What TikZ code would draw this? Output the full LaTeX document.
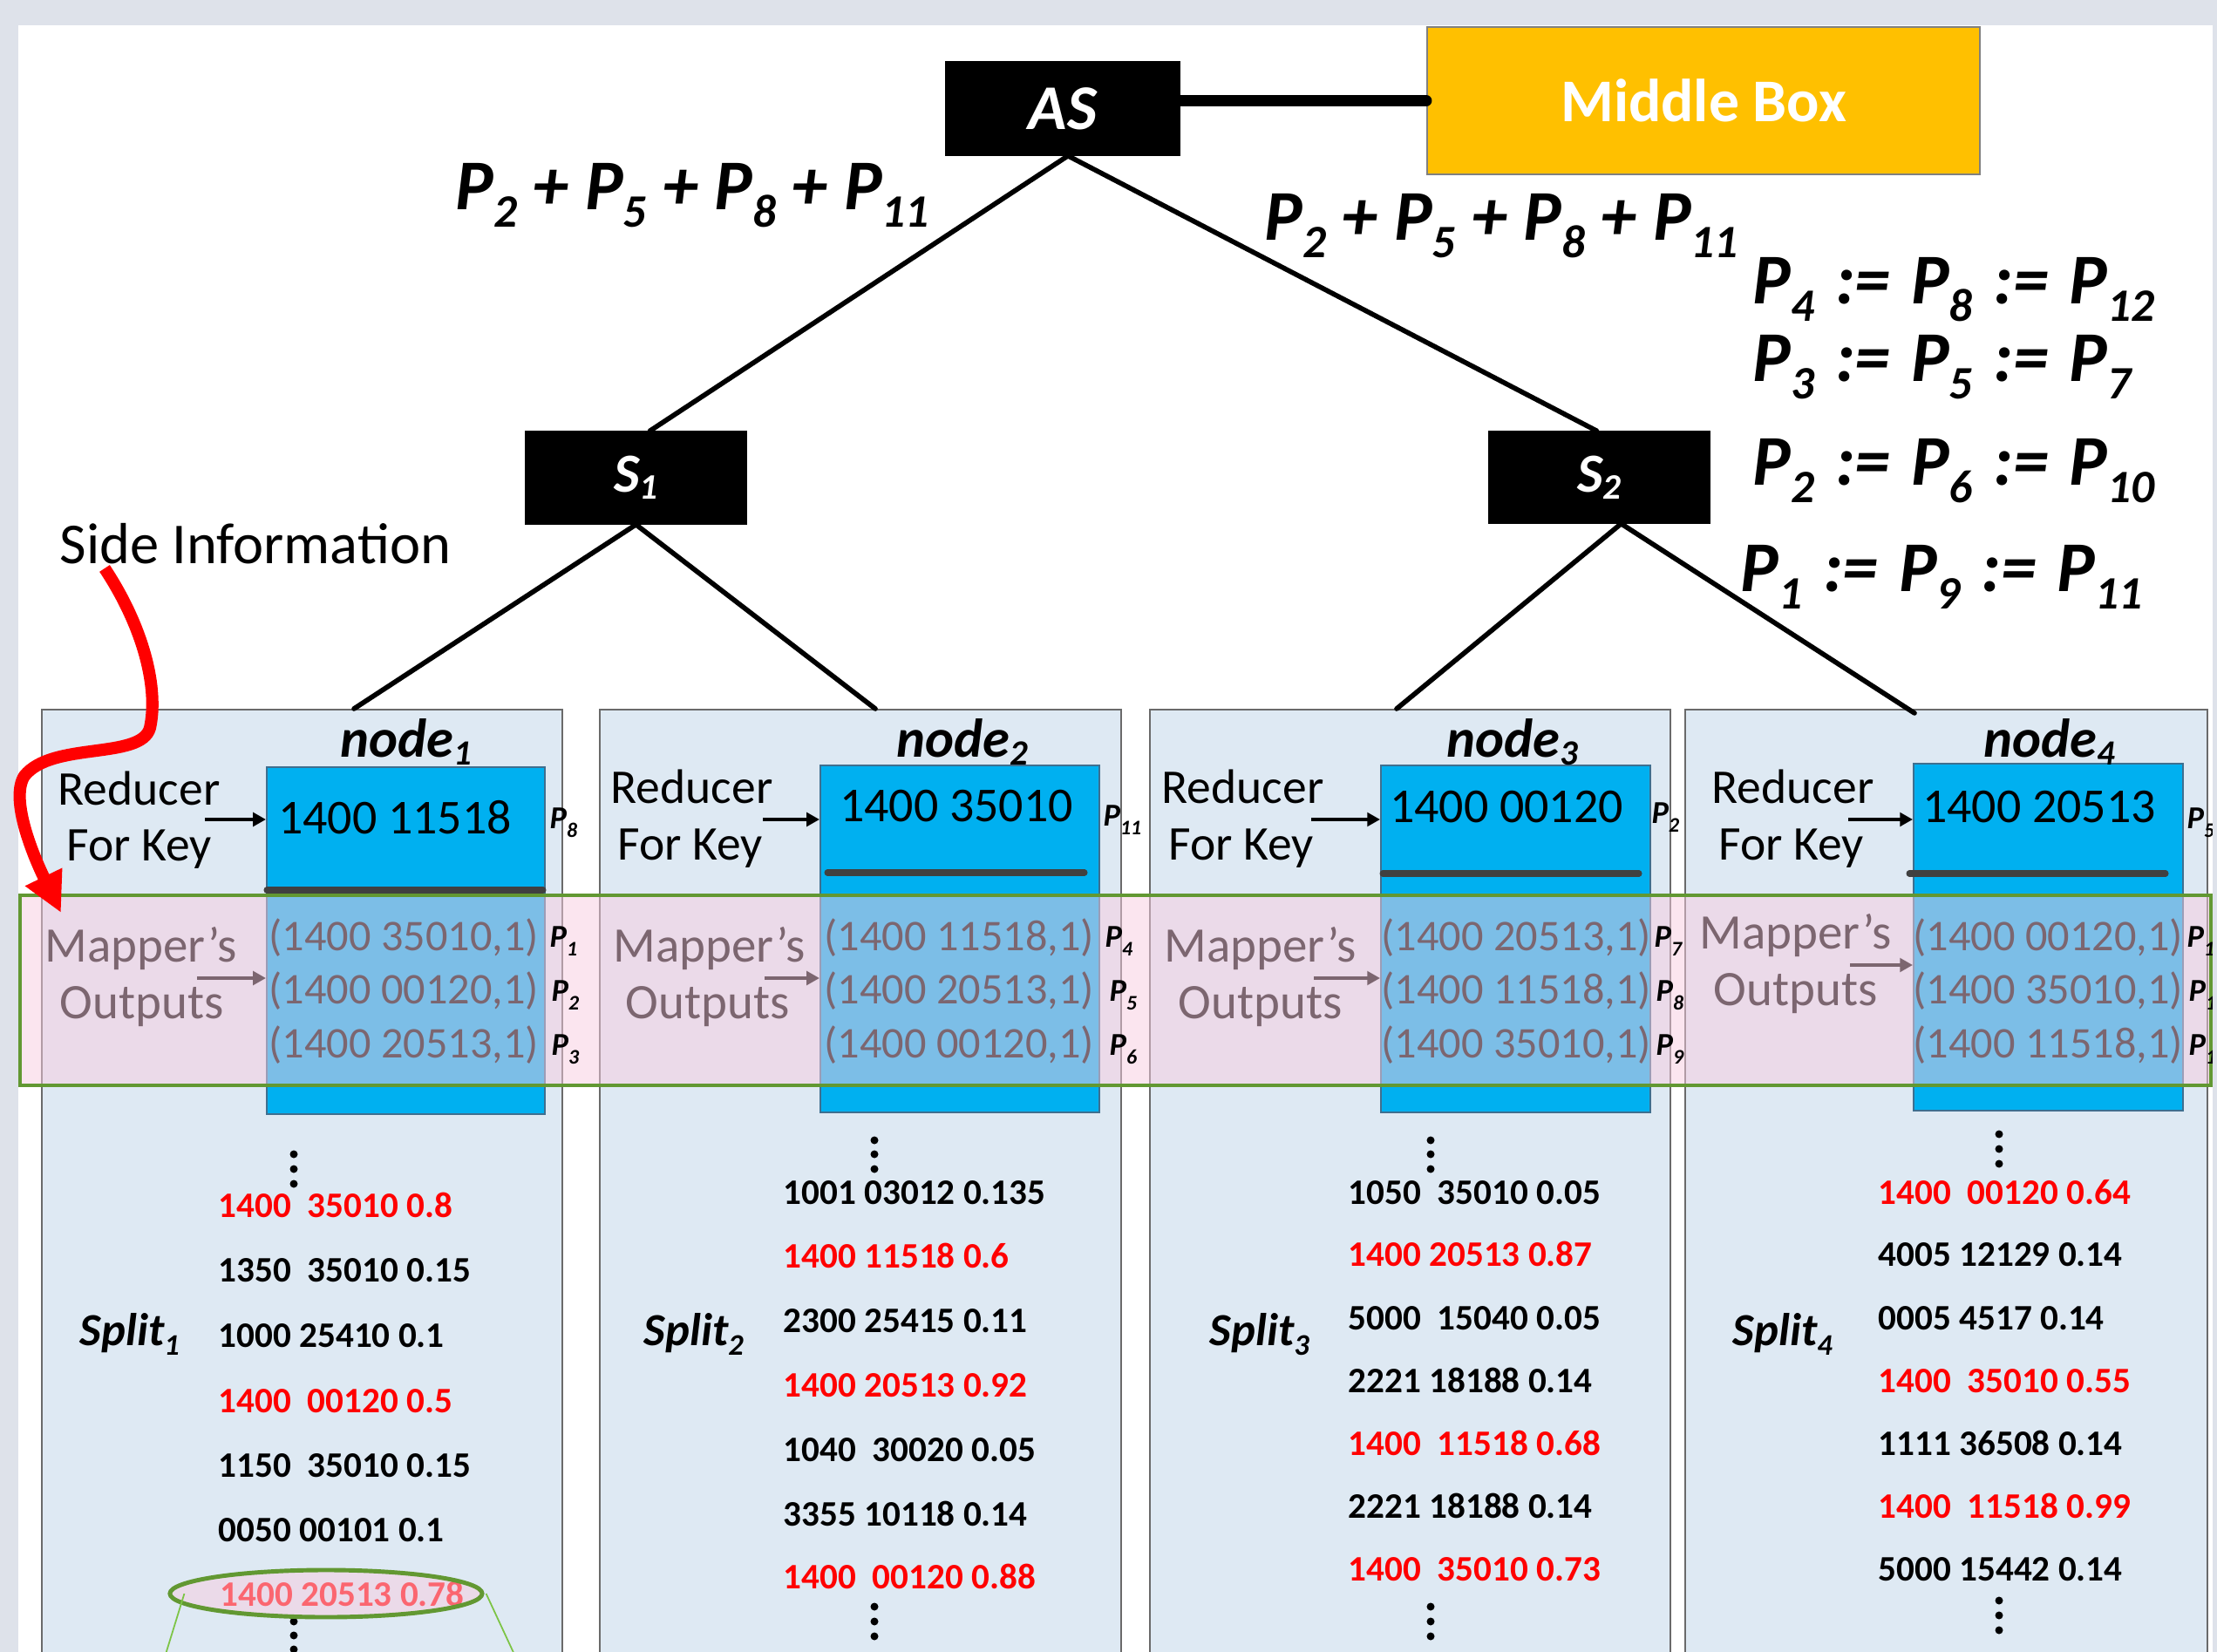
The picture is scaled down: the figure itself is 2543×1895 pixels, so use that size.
\documentclass[tikz,border=0pt]{standalone}
\usepackage{fontspec}
\setmainfont{Carlito}
\usetikzlibrary{arrows.meta,calc,shapes.geometric}

\definecolor{slidegray}{HTML}{DEE2EA}
\definecolor{panelblue}{HTML}{DEE9F3}
\definecolor{panelline}{HTML}{6A6A6A}
\definecolor{keyblue}{HTML}{00B0F0}
\definecolor{keyline}{HTML}{3F6F8F}
\definecolor{mbgold}{HTML}{FFC000}
\definecolor{bandgreen}{HTML}{629832}
\definecolor{conegreen}{HTML}{7CC444}
\definecolor{veil}{RGB}{248,204,224}
\definecolor{bargray}{HTML}{404040}
\definecolor{hot}{HTML}{FF0000}

% font size in pt
\newcommand\fsz[1]{\fontsize{#1pt}{#1pt}\selectfont}
% lowered, reduced index: optional drop, then the index
\newcommand\ix[2][0.24em]{\lower#1\hbox{\scalebox{0.65}{#2}}}
% spaced assignment sign
\newcommand\ceq{\hspace{0.29em}:=\hspace{0.29em}}

\tikzset{
  blackbox/.style={fill=black, draw=black, text=white, inner sep=0pt},
  panel/.style={fill=panelblue, draw=panelline, line width=0.5pt, anchor=north west, inner sep=0pt},
  keybox/.style={fill=keyblue, draw=keyline, line width=0.5pt, anchor=north west, inner sep=0pt},
  tree/.style={line width=1.6pt, line cap=round},
  eqtext/.style={font=\fsz{23.3}\bfseries\itshape, anchor=base west, inner sep=0pt},
  lbl/.style={font=\fsz{15.8}, anchor=base west, inner sep=0pt},
  mlbl/.style={font=\fsz{16.2}, anchor=base west, inner sep=0pt},
  keytext/.style={font=\fsz{15.9}, anchor=base, inner sep=0pt},
  tup/.style={font=\fsz{14.3}, anchor=base west, inner sep=0pt},
  plabel/.style={font=\fsz{10.4}\bfseries\itshape, anchor=base west, inner sep=0pt},
  title/.style={font=\fsz{17.8}\bfseries\itshape, anchor=base west, inner sep=0pt},
  splitlbl/.style={font=\fsz{15}\bfseries\itshape, anchor=base west, inner sep=0pt},
  row/.style={font=\fsz{11.7}\bfseries, anchor=base west, inner sep=0pt},
  hotrow/.style={row, text=hot},
  smallarrow/.style={line width=1.1pt, -{Triangle[length=4.2pt,width=4.4pt]}},
  bar/.style={line width=2pt, draw=bargray, line cap=round},
  dot/.style={circle, fill=black, inner sep=0pt, minimum size=9pt*0.2845},
}

\begin{document}
\begin{tikzpicture}[x=0.01cm, y=-0.01cm]
\useasboundingbox (0,0) rectangle (2543,1895);
\clip (0,0) rectangle (2543,1895);

% slide and its frame
\fill[slidegray] (0,0) rectangle (2543,1895);
\fill[white] (21,29) rectangle (2538,1895);

% machine panels
\node[panel, minimum width=5.97cm, minimum height=11.5cm] (p1) at (47,813) {};
\node[panel, minimum width=5.98cm, minimum height=11.5cm] (p2) at (687,813) {};
\node[panel, minimum width=5.97cm, minimum height=11.5cm] (p3) at (1318,813) {};
\node[panel, minimum width=5.99cm, minimum height=11.5cm] (p4) at (1932,813) {};

% reducer boxes
\node[keybox, minimum width=3.19cm, minimum height=3.98cm] (b1) at (305,879) {};
\node[keybox, minimum width=3.20cm, minimum height=3.98cm] (b2) at (940,877) {};
\node[keybox, minimum width=3.09cm, minimum height=3.98cm] (b3) at (1583,877) {};
\node[keybox, minimum width=3.09cm, minimum height=3.98cm] (b4) at (2194,875) {};

\draw[bar] (306,1021) -- (623,1021);
\draw[bar] (949,1001) -- (1244,1001);
\draw[bar] (1586,1002) -- (1880,1002);
\draw[bar] (2190,1002) -- (2484,1002);

% node titles
\node[title] (n1) at (390,868) {node\ix[0.15em]{1}};
\node[title] (n2) at (1028,868) {node\ix[0.15em]{2}};
\node[title] (n3) at (1659,868) {node\ix[0.15em]{3}};
\node[title] (n4) at (2275,868) {node\ix[0.15em]{4}};

% reducer labels
\node[lbl] (r1a) at (66,923) {Reducer};
\node[lbl] (r1b) at (76,987) {For Key};
\node[lbl] (r2a) at (700,921) {Reducer};
\node[lbl] (r2b) at (708,986) {For Key};
\node[lbl] (r3a) at (1332,921) {Reducer};
\node[lbl] (r3b) at (1340,986) {For Key};
\node[lbl] (r4a) at (1963,921) {Reducer};
\node[lbl] (r4b) at (1971,986) {For Key};

\coordinate (ra1) at (235,940);
\coordinate (ra2) at (875,940);
\coordinate (ra3) at (1504,940);
\coordinate (ra4) at (2120,940);
\draw[smallarrow] (ra1) -- (b1.west |- ra1);
\draw[smallarrow] (ra2) -- (b2.west |- ra2);
\draw[smallarrow] (ra3) -- (b3.west |- ra3);
\draw[smallarrow] (ra4) -- (b4.west |- ra4);

% reducer keys
\node[keytext] (k1) at (453,956) {1400 11518};
\node[keytext] (k2) at (1097,942) {1400 35010};
\node[keytext] (k3) at (1728,943) {1400 00120};
\node[keytext] (k4) at (2339,943) {1400 20513};

% mapper outputs (veiled below)
\node[mlbl] (m1a) at (51,1103) {Mapper’s};
\node[mlbl] (m1b) at (68,1168) {Outputs};
\node[mlbl] (m2a) at (703,1103) {Mapper’s};
\node[mlbl] (m2b) at (717,1168) {Outputs};
\node[mlbl] (m3a) at (1335,1103) {Mapper’s};
\node[mlbl] (m3b) at (1351,1168) {Outputs};
\node[mlbl] (m4a) at (1949,1088) {Mapper’s};
\node[mlbl] (m4b) at (1965,1153) {Outputs};

\coordinate (ma1) at (226,1122);
\coordinate (ma2) at (877,1122);
\coordinate (ma3) at (1507,1122);
\coordinate (ma4) at (2122,1107);
\draw[smallarrow] (ma1) -- (b1.west |- ma1);
\draw[smallarrow] (ma2) -- (b2.west |- ma2);
\draw[smallarrow] (ma3) -- (b3.west |- ma3);
\draw[smallarrow] (ma4) -- (b4.west |- ma4);

\node[tup] (u11) at (308,1090) {(1400 35010,1)};
\node[tup] (u12) at (308,1151) {(1400 00120,1)};
\node[tup] (u13) at (308,1213) {(1400 20513,1)};
\node[tup] (u21) at (945,1090) {(1400 11518,1)};
\node[tup] (u22) at (945,1151) {(1400 20513,1)};
\node[tup] (u23) at (945,1213) {(1400 00120,1)};
\node[tup] (u31) at (1584,1090) {(1400 20513,1)};
\node[tup] (u32) at (1584,1151) {(1400 11518,1)};
\node[tup] (u33) at (1584,1213) {(1400 35010,1)};
\node[tup] (u41) at (2194,1090) {(1400 00120,1)};
\node[tup] (u42) at (2194,1151) {(1400 35010,1)};
\node[tup] (u43) at (2194,1213) {(1400 11518,1)};

% translucent band over the mapper outputs
\fill[veil, fill opacity=0.5] (23,1027) rectangle (2536,1245);
\draw[bandgreen, line width=1.3pt] (23,1027) rectangle (2536,1245);

% packet labels
\node[plabel] (q8)  at (630,950)  {P\ix[0.3em]{8}};
\node[plabel] (q11) at (1265,947) {P\ix[0.3em]{11}};
\node[plabel] (q2)  at (1894,944) {P\ix[0.3em]{2}};
\node[plabel] (q5)  at (2508,950) {P\ix[0.3em]{5}};

\node[plabel] (o1)  at (630,1086)  {P\ix[0.3em]{1}};
\node[plabel] (o2)  at (632,1148)  {P\ix[0.3em]{2}};
\node[plabel] (o3)  at (632,1210)  {P\ix[0.3em]{3}};
\node[plabel] (o4)  at (1267,1086) {P\ix[0.3em]{4}};
\node[plabel] (o5)  at (1272,1148) {P\ix[0.3em]{5}};
\node[plabel] (o6)  at (1272,1210) {P\ix[0.3em]{6}};
\node[plabel] (o7)  at (1897,1086) {P\ix[0.3em]{7}};
\node[plabel] (o8)  at (1899,1148) {P\ix[0.3em]{8}};
\node[plabel] (o9)  at (1899,1210) {P\ix[0.3em]{9}};
\node[plabel] (o10) at (2508,1086) {P\ix[0.3em]{10}};
\node[plabel] (o11) at (2510,1148) {P\ix[0.3em]{11}};
\node[plabel] (o12) at (2510,1210) {P\ix[0.3em]{12}};

% input splits
\node[splitlbl] (s1) at (91,1543)  {Split\ix[0.22em]{1}};
\node[splitlbl] (s2) at (738,1543) {Split\ix[0.22em]{2}};
\node[splitlbl] (s3) at (1387,1543) {Split\ix[0.22em]{3}};
\node[splitlbl] (s4) at (1987,1543) {Split\ix[0.22em]{4}};

\foreach \y in {1324,1341,1358} \node[dot] at (337,\y) {};
\foreach \y in {1860,1876,1892} \node[dot] at (337,\y) {};
\foreach \y in {1308,1324,1341} \node[dot] at (1003,\y) {};
\foreach \y in {1843,1860,1877} \node[dot] at (1003,\y) {};
\foreach \y in {1308,1324,1341} \node[dot] at (1641,\y) {};
\foreach \y in {1843,1860,1877} \node[dot] at (1641,\y) {};
\foreach \y in {1301,1318,1335} \node[dot] at (2293,\y) {};
\foreach \y in {1836,1853,1870} \node[dot] at (2293,\y) {};

\node[hotrow] at (250,1396) {1400~ 35010 0.8};
\node[row]    at (250,1470) {1350~ 35010 0.15};
\node[row]    at (250,1545) {1000 25410 0.1};
\node[hotrow] at (250,1620) {1400~ 00120 0.5};
\node[row]    at (250,1694) {1150~ 35010 0.15};
\node[row]    at (250,1768) {0050 00101 0.1};
\node[hotrow] (hit) at (252,1842) {1400 20513 0.78};

\node[row]    at (898,1381) {1001 03012 0.135};
\node[hotrow] at (898,1454) {1400 11518 0.6};
\node[row]    at (898,1528) {2300 25415 0.11};
\node[hotrow] at (898,1602) {1400 20513 0.92};
\node[row]    at (898,1676) {1040~ 30020 0.05};
\node[row]    at (898,1750) {3355 10118 0.14};
\node[hotrow] at (898,1822) {1400~ 00120 0.88};

\node[row]    at (1546,1381) {1050~ 35010 0.05};
\node[hotrow] at (1546,1452) {1400 20513 0.87};
\node[row]    at (1546,1525) {5000~ 15040 0.05};
\node[row]    at (1546,1597) {2221 18188 0.14};
\node[hotrow] at (1546,1669) {1400~ 11518 0.68};
\node[row]    at (1546,1741) {2221 18188 0.14};
\node[hotrow] at (1546,1813) {1400~ 35010 0.73};

\node[hotrow] at (2154,1381) {1400~ 00120 0.64};
\node[row]    at (2154,1452) {4005 12129 0.14};
\node[row]    at (2154,1525) {0005 4517 0.14};
\node[hotrow] at (2154,1597) {1400~ 35010 0.55};
\node[row]    at (2154,1669) {1111 36508 0.14};
\node[hotrow] at (2154,1741) {1400~ 11518 0.99};
\node[row]    at (2154,1813) {5000 15442 0.14};

% highlighted record and its zoom cone
\node[ellipse, minimum width=3.58cm, minimum height=0.54cm, inner sep=0pt,
      fill=veil, fill opacity=0.5, draw=bandgreen, draw opacity=1, line width=1.4pt] (ell) at (374,1828) {};
\coordinate (cl) at (180,1930);
\coordinate (cr) at (605,1930);
\draw[conegreen, line width=0.5pt] ($(ell.west)+(19,0)$) -- (cl);
\draw[conegreen, line width=0.5pt] ($(ell.east)+(2,0)$) -- (cr);

% switch tree
\node[blackbox, minimum width=2.68cm, minimum height=1.07cm,
      font=\fsz{20.8}\bfseries\itshape] (AS) at (1219,124.5) {AS};
\node[blackbox, minimum width=2.53cm, minimum height=1.06cm,
      font=\fsz{18}\bfseries\itshape] (S1) at (729.5,548) {S\ix[0.13em]{1}};
\node[blackbox, minimum width=2.53cm, minimum height=1.05cm,
      font=\fsz{18}\bfseries\itshape] (S2) at (1834.5,547.5) {S\ix[0.13em]{2}};
\node[fill=mbgold, draw=gray, line width=0.5pt, minimum width=6.34cm, minimum height=1.69cm,
      text=white, font=\fsz{19.8}\bfseries] (MB) at (1954,115.5) {Middle Box};

\draw[line width=3.7pt, line cap=round] (AS.east |- MB.west) -- (MB.west);

\coordinate (t1) at (406,813);
\coordinate (t2) at (1004,813);
\coordinate (t3) at (1602,813);
\coordinate (t4) at (2196,818);
\draw[tree] ($(AS.south)+(6,0)$) -- ($(S1.north)+(16,0)$);
\draw[tree] ($(AS.south)+(6,0)$) -- ($(S2.north)+(-3,0)$);
\draw[tree] (S1.south) -- (t1);
\draw[tree] (S1.south) -- (t2);
\draw[tree] ($(S2.south)+(25,0)$) -- (t3);
\draw[tree] ($(S2.south)+(25,0)$) -- (t4);

% coded transmissions
\node[eqtext] (eqL) at (522,241) {P\ix{2} + P\ix{5} + P\ix{8} + P\ix{11}};
\node[eqtext] (eqR) at (1450,276) {P\ix{2} + P\ix{5} + P\ix{8} + P\ix{11}};
\node[eqtext] (d1) at (2010,349) {P\ix{4}\ceq P\ix{8}\ceq P\ix{12}};
\node[eqtext] (d2) at (2010,438) {P\ix{3}\ceq P\ix{5}\ceq P\ix{7}};
\node[eqtext] (d3) at (2010,557) {P\ix{2}\ceq P\ix{6}\ceq P\ix{10}};
\node[eqtext] (d4) at (1996,679) {P\ix{1}\ceq P\ix{9}\ceq P\ix{11}};

% side information pointer
\node[font=\fsz{18.9}, anchor=base west, inner sep=0pt] (side) at (68,647) {Side Information};
\draw[hot, line width=4pt, -{Triangle[length=13pt,width=12.5pt]}]
  (120,652) .. controls (165,720) and (182,790) .. (172,835)
  .. controls (162,872) and (60,850) .. (28,890)
  .. controls (12,915) and (35,975) .. (70,1047);

% slide edge on the right
\fill[slidegray] (2538,0) rectangle (2543,1895);
\end{tikzpicture}
\end{document}
